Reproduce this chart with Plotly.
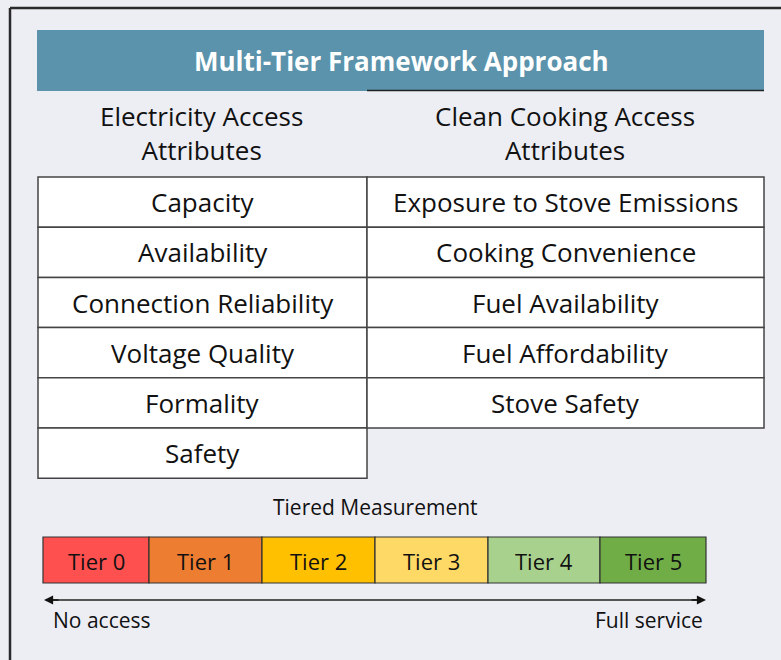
import plotly.graph_objects as go

# ---- data ----
title_text = "Multi-Tier Framework Approach"
column_titles = ["Electricity Access<br>Attributes", "Clean Cooking Access<br>Attributes"]
electricity_attributes = ["Capacity", "Availability", "Connection Reliability",
                          "Voltage Quality", "Formality", "Safety"]
cooking_attributes = ["Exposure to Stove Emissions", "Cooking Convenience",
                      "Fuel Availability", "Fuel Affordability", "Stove Safety"]
tier_labels = ["Tier 0", "Tier 1", "Tier 2", "Tier 3", "Tier 4", "Tier 5"]
tier_colors = ["#FF5050", "#ED7D31", "#FFC000", "#FFD966", "#A9D18E", "#70AD47"]
scale_title = "Tiered Measurement"
scale_ends = ["No access", "Full service"]

# ---- layout constants ----
W, H = 781, 660
BG = "#EDEEF4"
FONT = "Open Sans"
TXT = "#111111"
col_x = [(38, 367), (367, 764)]
row_top, row_h = 177, 50.2
tier_edges = [43, 149, 262, 375, 488, 600, 706]
bar_y = (537, 583)

fig = go.Figure()
shapes = []
ann = []

# outer frame (left and top edges)
shapes.append(dict(type="line", x0=10, x1=790, y0=8, y1=8, line=dict(color="#2a2a2a", width=2.5)))
shapes.append(dict(type="line", x0=10, x1=10, y0=8, y1=670, line=dict(color="#2a2a2a", width=2.5)))

# header band
shapes.append(dict(type="rect", x0=37, x1=764, y0=30, y1=91, fillcolor="#5A93AB", line=dict(width=0)))
shapes.append(dict(type="line", x0=367, x1=764, y0=90.5, y1=90.5, line=dict(color="#222", width=1.5)))
ann.append(dict(x=401, y=61, text="<b>" + title_text + "</b>", font=dict(family=FONT, size=26, color="white")))

# column titles
for (x0, x1), t in zip(col_x, column_titles):
    ann.append(dict(x=(x0 + x1) / 2 - 1, y=133, text=t, font=dict(family=FONT, size=26, color=TXT)))

# attribute tables
for (x0, x1), items in zip(col_x, [electricity_attributes, cooking_attributes]):
    for i, t in enumerate(items):
        y0 = row_top + i * row_h
        shapes.append(dict(type="rect", x0=x0, x1=x1, y0=y0, y1=y0 + row_h,
                           fillcolor="white", line=dict(color="#444", width=1.5)))
        ann.append(dict(x=(x0 + x1) / 2, y=y0 + row_h / 2, text=t,
                        font=dict(family=FONT, size=26, color=TXT)))

# tier scale
ann.append(dict(x=375, y=507, text=scale_title, font=dict(family=FONT, size=21, color=TXT)))
for i, (lab, col) in enumerate(zip(tier_labels, tier_colors)):
    x0, x1 = tier_edges[i], tier_edges[i + 1]
    shapes.append(dict(type="rect", x0=x0, x1=x1, y0=bar_y[0], y1=bar_y[1],
                       fillcolor=col, line=dict(color="#333", width=1.2)))
    ann.append(dict(x=(x0 + x1) / 2, y=(bar_y[0] + bar_y[1]) / 2 + 1, text=lab,
                    font=dict(family=FONT, size=22, color=TXT)))

# double-headed arrow
shapes.append(dict(type="line", x0=50, x1=700, y0=600, y1=600, line=dict(color="#222", width=1.3)))
ann.append(dict(x=706, y=600, ax=690, ay=600, xref="x", yref="y", axref="x", ayref="y",
                text="", showarrow=True, arrowhead=2, arrowsize=1.4, arrowwidth=1.3, arrowcolor="#111"))
ann.append(dict(x=44, y=600, ax=60, ay=600, xref="x", yref="y", axref="x", ayref="y",
                text="", showarrow=True, arrowhead=2, arrowsize=1.4, arrowwidth=1.3, arrowcolor="#111"))
ann.append(dict(x=51, y=620, text=scale_ends[0], xanchor="left", font=dict(family=FONT, size=21, color=TXT)))
ann.append(dict(x=705, y=620, text=scale_ends[1], xanchor="right", font=dict(family=FONT, size=21, color=TXT)))

for a in ann:
    a.setdefault("showarrow", False)
    a.setdefault("xref", "x")
    a.setdefault("yref", "y")

fig.update_layout(
    width=W, height=H,
    margin=dict(l=0, r=0, t=0, b=0),
    paper_bgcolor=BG, plot_bgcolor=BG,
    xaxis=dict(range=[0, W], visible=False, fixedrange=True),
    yaxis=dict(range=[H, 0], visible=False, fixedrange=True),
    shapes=shapes, annotations=ann, showlegend=False,
)
fig.write_html("out.html", config={"displayModeBar": False},
               post_script="document.body.style.margin='0';document.body.style.background='%s';" % BG)
